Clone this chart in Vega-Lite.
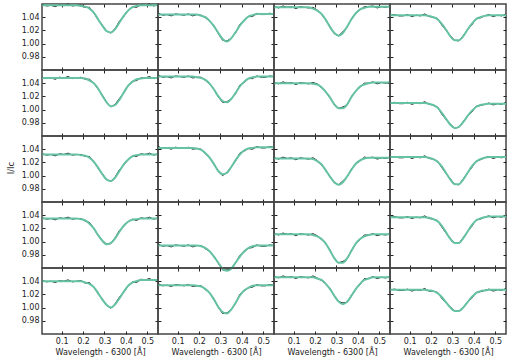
{
"$schema":"https://vega.github.io/schema/vega-lite/v6.json",
"padding":{"left":6,"top":0,"right":10,"bottom":2},
"bounds":"flush",
"datasets":{"d":[
{"r":1,"c":1,"x":0.01,"o":1.059,"f":1.058},{"r":1,"c":1,"x":0.03,"o":1.057,"f":1.058},{"r":1,"c":1,"x":0.05,"o":1.058,"f":1.058},{"r":1,"c":1,"x":0.07,"o":1.056,"f":1.058},{"r":1,"c":1,"x":0.09,"o":1.059,"f":1.058},{"r":1,"c":1,"x":0.11,"o":1.058,"f":1.058},{"r":1,"c":1,"x":0.13,"o":1.060,"f":1.058},{"r":1,"c":1,"x":0.15,"o":1.057,"f":1.058},{"r":1,"c":1,"x":0.17,"o":1.058,"f":1.058},{"r":1,"c":1,"x":0.19,"o":1.058,"f":1.057},{"r":1,"c":1,"x":0.21,"o":1.055,"f":1.056},{"r":1,"c":1,"x":0.23,"o":1.055,"f":1.053},{"r":1,"c":1,"x":0.25,"o":1.047,"f":1.047},{"r":1,"c":1,"x":0.27,"o":1.036,"f":1.037},{"r":1,"c":1,"x":0.29,"o":1.028,"f":1.027},{"r":1,"c":1,"x":0.31,"o":1.019,"f":1.019},{"r":1,"c":1,"x":0.33,"o":1.016,"f":1.017},{"r":1,"c":1,"x":0.35,"o":1.023,"f":1.022},{"r":1,"c":1,"x":0.37,"o":1.034,"f":1.032},{"r":1,"c":1,"x":0.39,"o":1.041,"f":1.042},{"r":1,"c":1,"x":0.41,"o":1.050,"f":1.050},{"r":1,"c":1,"x":0.43,"o":1.056,"f":1.055},{"r":1,"c":1,"x":0.45,"o":1.055,"f":1.057},{"r":1,"c":1,"x":0.47,"o":1.059,"f":1.058},{"r":1,"c":1,"x":0.49,"o":1.058,"f":1.058},{"r":1,"c":1,"x":0.51,"o":1.060,"f":1.058},{"r":1,"c":1,"x":0.53,"o":1.057,"f":1.058},{"r":1,"c":1,"x":0.55,"o":1.059,"f":1.058},
{"r":1,"c":2,"x":0.01,"o":1.046,"f":1.044},{"r":1,"c":2,"x":0.03,"o":1.043,"f":1.044},{"r":1,"c":2,"x":0.05,"o":1.044,"f":1.044},{"r":1,"c":2,"x":0.07,"o":1.042,"f":1.044},{"r":1,"c":2,"x":0.09,"o":1.045,"f":1.044},{"r":1,"c":2,"x":0.11,"o":1.044,"f":1.044},{"r":1,"c":2,"x":0.13,"o":1.043,"f":1.044},{"r":1,"c":2,"x":0.15,"o":1.045,"f":1.044},{"r":1,"c":2,"x":0.17,"o":1.042,"f":1.044},{"r":1,"c":2,"x":0.19,"o":1.044,"f":1.044},{"r":1,"c":2,"x":0.21,"o":1.043,"f":1.042},{"r":1,"c":2,"x":0.23,"o":1.039,"f":1.040},{"r":1,"c":2,"x":0.25,"o":1.034,"f":1.034},{"r":1,"c":2,"x":0.27,"o":1.027,"f":1.026},{"r":1,"c":2,"x":0.29,"o":1.015,"f":1.016},{"r":1,"c":2,"x":0.31,"o":1.005,"f":1.007},{"r":1,"c":2,"x":0.33,"o":1.004,"f":1.003},{"r":1,"c":2,"x":0.35,"o":1.008,"f":1.008},{"r":1,"c":2,"x":0.37,"o":1.016,"f":1.017},{"r":1,"c":2,"x":0.39,"o":1.029,"f":1.027},{"r":1,"c":2,"x":0.41,"o":1.034,"f":1.035},{"r":1,"c":2,"x":0.43,"o":1.041,"f":1.041},{"r":1,"c":2,"x":0.45,"o":1.041,"f":1.043},{"r":1,"c":2,"x":0.47,"o":1.046,"f":1.045},{"r":1,"c":2,"x":0.49,"o":1.044,"f":1.045},{"r":1,"c":2,"x":0.51,"o":1.044,"f":1.045},{"r":1,"c":2,"x":0.53,"o":1.046,"f":1.045},{"r":1,"c":2,"x":0.55,"o":1.045,"f":1.045},
{"r":1,"c":3,"x":0.01,"o":1.056,"f":1.055},{"r":1,"c":3,"x":0.03,"o":1.054,"f":1.055},{"r":1,"c":3,"x":0.05,"o":1.057,"f":1.055},{"r":1,"c":3,"x":0.07,"o":1.055,"f":1.055},{"r":1,"c":3,"x":0.09,"o":1.056,"f":1.055},{"r":1,"c":3,"x":0.11,"o":1.053,"f":1.055},{"r":1,"c":3,"x":0.13,"o":1.056,"f":1.055},{"r":1,"c":3,"x":0.15,"o":1.055,"f":1.055},{"r":1,"c":3,"x":0.17,"o":1.054,"f":1.055},{"r":1,"c":3,"x":0.19,"o":1.055,"f":1.053},{"r":1,"c":3,"x":0.21,"o":1.051,"f":1.050},{"r":1,"c":3,"x":0.23,"o":1.044,"f":1.045},{"r":1,"c":3,"x":0.25,"o":1.036,"f":1.036},{"r":1,"c":3,"x":0.27,"o":1.026,"f":1.025},{"r":1,"c":3,"x":0.29,"o":1.015,"f":1.016},{"r":1,"c":3,"x":0.31,"o":1.012,"f":1.012},{"r":1,"c":3,"x":0.33,"o":1.018,"f":1.016},{"r":1,"c":3,"x":0.35,"o":1.025,"f":1.026},{"r":1,"c":3,"x":0.37,"o":1.038,"f":1.037},{"r":1,"c":3,"x":0.39,"o":1.046,"f":1.046},{"r":1,"c":3,"x":0.41,"o":1.051,"f":1.052},{"r":1,"c":3,"x":0.43,"o":1.056,"f":1.054},{"r":1,"c":3,"x":0.45,"o":1.056,"f":1.056},{"r":1,"c":3,"x":0.47,"o":1.057,"f":1.056},{"r":1,"c":3,"x":0.49,"o":1.054,"f":1.056},{"r":1,"c":3,"x":0.51,"o":1.056,"f":1.056},{"r":1,"c":3,"x":0.53,"o":1.055,"f":1.056},{"r":1,"c":3,"x":0.55,"o":1.057,"f":1.056},
{"r":1,"c":4,"x":0.01,"o":1.043,"f":1.043},{"r":1,"c":4,"x":0.03,"o":1.044,"f":1.043},{"r":1,"c":4,"x":0.05,"o":1.042,"f":1.043},{"r":1,"c":4,"x":0.07,"o":1.042,"f":1.043},{"r":1,"c":4,"x":0.09,"o":1.044,"f":1.043},{"r":1,"c":4,"x":0.11,"o":1.041,"f":1.043},{"r":1,"c":4,"x":0.13,"o":1.043,"f":1.043},{"r":1,"c":4,"x":0.15,"o":1.042,"f":1.043},{"r":1,"c":4,"x":0.17,"o":1.045,"f":1.043},{"r":1,"c":4,"x":0.19,"o":1.041,"f":1.042},{"r":1,"c":4,"x":0.21,"o":1.040,"f":1.040},{"r":1,"c":4,"x":0.23,"o":1.038,"f":1.037},{"r":1,"c":4,"x":0.25,"o":1.028,"f":1.030},{"r":1,"c":4,"x":0.27,"o":1.020,"f":1.021},{"r":1,"c":4,"x":0.29,"o":1.012,"f":1.011},{"r":1,"c":4,"x":0.31,"o":1.005,"f":1.005},{"r":1,"c":4,"x":0.33,"o":1.004,"f":1.005},{"r":1,"c":4,"x":0.35,"o":1.012,"f":1.011},{"r":1,"c":4,"x":0.37,"o":1.021,"f":1.021},{"r":1,"c":4,"x":0.39,"o":1.028,"f":1.030},{"r":1,"c":4,"x":0.41,"o":1.038,"f":1.037},{"r":1,"c":4,"x":0.43,"o":1.039,"f":1.040},{"r":1,"c":4,"x":0.45,"o":1.042,"f":1.042},{"r":1,"c":4,"x":0.47,"o":1.044,"f":1.043},{"r":1,"c":4,"x":0.49,"o":1.041,"f":1.043},{"r":1,"c":4,"x":0.51,"o":1.043,"f":1.043},{"r":1,"c":4,"x":0.53,"o":1.042,"f":1.043},{"r":1,"c":4,"x":0.55,"o":1.045,"f":1.043},
{"r":2,"c":1,"x":0.01,"o":1.049,"f":1.048},{"r":2,"c":1,"x":0.03,"o":1.047,"f":1.048},{"r":2,"c":1,"x":0.05,"o":1.048,"f":1.048},{"r":2,"c":1,"x":0.07,"o":1.046,"f":1.048},{"r":2,"c":1,"x":0.09,"o":1.049,"f":1.048},{"r":2,"c":1,"x":0.11,"o":1.048,"f":1.048},{"r":2,"c":1,"x":0.13,"o":1.050,"f":1.048},{"r":2,"c":1,"x":0.15,"o":1.047,"f":1.048},{"r":2,"c":1,"x":0.17,"o":1.048,"f":1.048},{"r":2,"c":1,"x":0.19,"o":1.049,"f":1.048},{"r":2,"c":1,"x":0.21,"o":1.046,"f":1.047},{"r":2,"c":1,"x":0.23,"o":1.046,"f":1.044},{"r":2,"c":1,"x":0.25,"o":1.040,"f":1.040},{"r":2,"c":1,"x":0.27,"o":1.031,"f":1.032},{"r":2,"c":1,"x":0.29,"o":1.022,"f":1.021},{"r":2,"c":1,"x":0.31,"o":1.011,"f":1.011},{"r":2,"c":1,"x":0.33,"o":1.004,"f":1.005},{"r":2,"c":1,"x":0.35,"o":1.008,"f":1.007},{"r":2,"c":1,"x":0.37,"o":1.017,"f":1.015},{"r":2,"c":1,"x":0.39,"o":1.025,"f":1.026},{"r":2,"c":1,"x":0.41,"o":1.036,"f":1.036},{"r":2,"c":1,"x":0.43,"o":1.043,"f":1.042},{"r":2,"c":1,"x":0.45,"o":1.044,"f":1.046},{"r":2,"c":1,"x":0.47,"o":1.048,"f":1.047},{"r":2,"c":1,"x":0.49,"o":1.048,"f":1.048},{"r":2,"c":1,"x":0.51,"o":1.050,"f":1.048},{"r":2,"c":1,"x":0.53,"o":1.047,"f":1.048},{"r":2,"c":1,"x":0.55,"o":1.049,"f":1.048},
{"r":2,"c":2,"x":0.01,"o":1.052,"f":1.050},{"r":2,"c":2,"x":0.03,"o":1.049,"f":1.050},{"r":2,"c":2,"x":0.05,"o":1.050,"f":1.050},{"r":2,"c":2,"x":0.07,"o":1.048,"f":1.050},{"r":2,"c":2,"x":0.09,"o":1.051,"f":1.050},{"r":2,"c":2,"x":0.11,"o":1.050,"f":1.050},{"r":2,"c":2,"x":0.13,"o":1.049,"f":1.050},{"r":2,"c":2,"x":0.15,"o":1.051,"f":1.050},{"r":2,"c":2,"x":0.17,"o":1.048,"f":1.050},{"r":2,"c":2,"x":0.19,"o":1.049,"f":1.049},{"r":2,"c":2,"x":0.21,"o":1.049,"f":1.048},{"r":2,"c":2,"x":0.23,"o":1.044,"f":1.045},{"r":2,"c":2,"x":0.25,"o":1.039,"f":1.039},{"r":2,"c":2,"x":0.27,"o":1.031,"f":1.030},{"r":2,"c":2,"x":0.29,"o":1.019,"f":1.020},{"r":2,"c":2,"x":0.31,"o":1.011,"f":1.013},{"r":2,"c":2,"x":0.33,"o":1.012,"f":1.011},{"r":2,"c":2,"x":0.35,"o":1.016,"f":1.016},{"r":2,"c":2,"x":0.37,"o":1.024,"f":1.025},{"r":2,"c":2,"x":0.39,"o":1.037,"f":1.035},{"r":2,"c":2,"x":0.41,"o":1.041,"f":1.042},{"r":2,"c":2,"x":0.43,"o":1.047,"f":1.047},{"r":2,"c":2,"x":0.45,"o":1.047,"f":1.049},{"r":2,"c":2,"x":0.47,"o":1.051,"f":1.050},{"r":2,"c":2,"x":0.49,"o":1.049,"f":1.050},{"r":2,"c":2,"x":0.51,"o":1.049,"f":1.050},{"r":2,"c":2,"x":0.53,"o":1.051,"f":1.050},{"r":2,"c":2,"x":0.55,"o":1.050,"f":1.050},
{"r":2,"c":3,"x":0.01,"o":1.041,"f":1.040},{"r":2,"c":3,"x":0.03,"o":1.039,"f":1.040},{"r":2,"c":3,"x":0.05,"o":1.042,"f":1.040},{"r":2,"c":3,"x":0.07,"o":1.040,"f":1.040},{"r":2,"c":3,"x":0.09,"o":1.041,"f":1.040},{"r":2,"c":3,"x":0.11,"o":1.038,"f":1.040},{"r":2,"c":3,"x":0.13,"o":1.041,"f":1.040},{"r":2,"c":3,"x":0.15,"o":1.040,"f":1.040},{"r":2,"c":3,"x":0.17,"o":1.039,"f":1.040},{"r":2,"c":3,"x":0.19,"o":1.041,"f":1.039},{"r":2,"c":3,"x":0.21,"o":1.039,"f":1.038},{"r":2,"c":3,"x":0.23,"o":1.033,"f":1.034},{"r":2,"c":3,"x":0.25,"o":1.027,"f":1.027},{"r":2,"c":3,"x":0.27,"o":1.019,"f":1.018},{"r":2,"c":3,"x":0.29,"o":1.007,"f":1.008},{"r":2,"c":3,"x":0.31,"o":1.002,"f":1.002},{"r":2,"c":3,"x":0.33,"o":1.004,"f":1.002},{"r":2,"c":3,"x":0.35,"o":1.007,"f":1.008},{"r":2,"c":3,"x":0.37,"o":1.020,"f":1.019},{"r":2,"c":3,"x":0.39,"o":1.028,"f":1.028},{"r":2,"c":3,"x":0.41,"o":1.034,"f":1.035},{"r":2,"c":3,"x":0.43,"o":1.040,"f":1.038},{"r":2,"c":3,"x":0.45,"o":1.040,"f":1.040},{"r":2,"c":3,"x":0.47,"o":1.042,"f":1.041},{"r":2,"c":3,"x":0.49,"o":1.039,"f":1.041},{"r":2,"c":3,"x":0.51,"o":1.041,"f":1.041},{"r":2,"c":3,"x":0.53,"o":1.040,"f":1.041},{"r":2,"c":3,"x":0.55,"o":1.042,"f":1.041},
{"r":2,"c":4,"x":0.01,"o":1.010,"f":1.010},{"r":2,"c":4,"x":0.03,"o":1.011,"f":1.010},{"r":2,"c":4,"x":0.05,"o":1.009,"f":1.010},{"r":2,"c":4,"x":0.07,"o":1.009,"f":1.010},{"r":2,"c":4,"x":0.09,"o":1.011,"f":1.010},{"r":2,"c":4,"x":0.11,"o":1.008,"f":1.010},{"r":2,"c":4,"x":0.13,"o":1.010,"f":1.010},{"r":2,"c":4,"x":0.15,"o":1.009,"f":1.010},{"r":2,"c":4,"x":0.17,"o":1.012,"f":1.010},{"r":2,"c":4,"x":0.19,"o":1.008,"f":1.009},{"r":2,"c":4,"x":0.21,"o":1.007,"f":1.007},{"r":2,"c":4,"x":0.23,"o":1.004,"f":1.003},{"r":2,"c":4,"x":0.25,"o":0.993,"f":0.995},{"r":2,"c":4,"x":0.27,"o":0.985,"f":0.986},{"r":2,"c":4,"x":0.29,"o":0.978,"f":0.977},{"r":2,"c":4,"x":0.31,"o":0.972,"f":0.972},{"r":2,"c":4,"x":0.33,"o":0.973,"f":0.974},{"r":2,"c":4,"x":0.35,"o":0.982,"f":0.981},{"r":2,"c":4,"x":0.37,"o":0.990,"f":0.990},{"r":2,"c":4,"x":0.39,"o":0.996,"f":0.998},{"r":2,"c":4,"x":0.41,"o":1.005,"f":1.004},{"r":2,"c":4,"x":0.43,"o":1.006,"f":1.007},{"r":2,"c":4,"x":0.45,"o":1.008,"f":1.008},{"r":2,"c":4,"x":0.47,"o":1.010,"f":1.009},{"r":2,"c":4,"x":0.49,"o":1.007,"f":1.009},{"r":2,"c":4,"x":0.51,"o":1.009,"f":1.009},{"r":2,"c":4,"x":0.53,"o":1.008,"f":1.009},{"r":2,"c":4,"x":0.55,"o":1.011,"f":1.009},
{"r":3,"c":1,"x":0.01,"o":1.033,"f":1.032},{"r":3,"c":1,"x":0.03,"o":1.031,"f":1.032},{"r":3,"c":1,"x":0.05,"o":1.032,"f":1.032},{"r":3,"c":1,"x":0.07,"o":1.030,"f":1.032},{"r":3,"c":1,"x":0.09,"o":1.033,"f":1.032},{"r":3,"c":1,"x":0.11,"o":1.032,"f":1.032},{"r":3,"c":1,"x":0.13,"o":1.034,"f":1.032},{"r":3,"c":1,"x":0.15,"o":1.031,"f":1.032},{"r":3,"c":1,"x":0.17,"o":1.032,"f":1.032},{"r":3,"c":1,"x":0.19,"o":1.032,"f":1.031},{"r":3,"c":1,"x":0.21,"o":1.029,"f":1.030},{"r":3,"c":1,"x":0.23,"o":1.029,"f":1.027},{"r":3,"c":1,"x":0.25,"o":1.021,"f":1.021},{"r":3,"c":1,"x":0.27,"o":1.011,"f":1.012},{"r":3,"c":1,"x":0.29,"o":1.003,"f":1.002},{"r":3,"c":1,"x":0.31,"o":0.994,"f":0.994},{"r":3,"c":1,"x":0.33,"o":0.991,"f":0.992},{"r":3,"c":1,"x":0.35,"o":0.998,"f":0.997},{"r":3,"c":1,"x":0.37,"o":1.009,"f":1.007},{"r":3,"c":1,"x":0.39,"o":1.016,"f":1.017},{"r":3,"c":1,"x":0.41,"o":1.024,"f":1.024},{"r":3,"c":1,"x":0.43,"o":1.030,"f":1.029},{"r":3,"c":1,"x":0.45,"o":1.029,"f":1.031},{"r":3,"c":1,"x":0.47,"o":1.033,"f":1.032},{"r":3,"c":1,"x":0.49,"o":1.032,"f":1.032},{"r":3,"c":1,"x":0.51,"o":1.034,"f":1.032},{"r":3,"c":1,"x":0.53,"o":1.031,"f":1.032},{"r":3,"c":1,"x":0.55,"o":1.033,"f":1.032},
{"r":3,"c":2,"x":0.01,"o":1.044,"f":1.042},{"r":3,"c":2,"x":0.03,"o":1.041,"f":1.042},{"r":3,"c":2,"x":0.05,"o":1.042,"f":1.042},{"r":3,"c":2,"x":0.07,"o":1.040,"f":1.042},{"r":3,"c":2,"x":0.09,"o":1.043,"f":1.042},{"r":3,"c":2,"x":0.11,"o":1.042,"f":1.042},{"r":3,"c":2,"x":0.13,"o":1.041,"f":1.042},{"r":3,"c":2,"x":0.15,"o":1.043,"f":1.042},{"r":3,"c":2,"x":0.17,"o":1.040,"f":1.042},{"r":3,"c":2,"x":0.19,"o":1.041,"f":1.041},{"r":3,"c":2,"x":0.21,"o":1.040,"f":1.039},{"r":3,"c":2,"x":0.23,"o":1.033,"f":1.034},{"r":3,"c":2,"x":0.25,"o":1.027,"f":1.027},{"r":3,"c":2,"x":0.27,"o":1.018,"f":1.017},{"r":3,"c":2,"x":0.29,"o":1.006,"f":1.007},{"r":3,"c":2,"x":0.31,"o":1.000,"f":1.002},{"r":3,"c":2,"x":0.33,"o":1.005,"f":1.004},{"r":3,"c":2,"x":0.35,"o":1.013,"f":1.013},{"r":3,"c":2,"x":0.37,"o":1.022,"f":1.023},{"r":3,"c":2,"x":0.39,"o":1.034,"f":1.032},{"r":3,"c":2,"x":0.41,"o":1.037,"f":1.038},{"r":3,"c":2,"x":0.43,"o":1.041,"f":1.041},{"r":3,"c":2,"x":0.45,"o":1.040,"f":1.042},{"r":3,"c":2,"x":0.47,"o":1.044,"f":1.043},{"r":3,"c":2,"x":0.49,"o":1.042,"f":1.043},{"r":3,"c":2,"x":0.51,"o":1.042,"f":1.043},{"r":3,"c":2,"x":0.53,"o":1.044,"f":1.043},{"r":3,"c":2,"x":0.55,"o":1.043,"f":1.043},
{"r":3,"c":3,"x":0.01,"o":1.027,"f":1.026},{"r":3,"c":3,"x":0.03,"o":1.025,"f":1.026},{"r":3,"c":3,"x":0.05,"o":1.028,"f":1.026},{"r":3,"c":3,"x":0.07,"o":1.026,"f":1.026},{"r":3,"c":3,"x":0.09,"o":1.027,"f":1.026},{"r":3,"c":3,"x":0.11,"o":1.024,"f":1.026},{"r":3,"c":3,"x":0.13,"o":1.027,"f":1.026},{"r":3,"c":3,"x":0.15,"o":1.026,"f":1.026},{"r":3,"c":3,"x":0.17,"o":1.025,"f":1.026},{"r":3,"c":3,"x":0.19,"o":1.027,"f":1.025},{"r":3,"c":3,"x":0.21,"o":1.023,"f":1.022},{"r":3,"c":3,"x":0.23,"o":1.016,"f":1.017},{"r":3,"c":3,"x":0.25,"o":1.008,"f":1.008},{"r":3,"c":3,"x":0.27,"o":0.999,"f":0.998},{"r":3,"c":3,"x":0.29,"o":0.989,"f":0.990},{"r":3,"c":3,"x":0.31,"o":0.986,"f":0.986},{"r":3,"c":3,"x":0.33,"o":0.992,"f":0.990},{"r":3,"c":3,"x":0.35,"o":0.998,"f":0.999},{"r":3,"c":3,"x":0.37,"o":1.010,"f":1.009},{"r":3,"c":3,"x":0.39,"o":1.018,"f":1.018},{"r":3,"c":3,"x":0.41,"o":1.022,"f":1.023},{"r":3,"c":3,"x":0.43,"o":1.028,"f":1.026},{"r":3,"c":3,"x":0.45,"o":1.027,"f":1.027},{"r":3,"c":3,"x":0.47,"o":1.028,"f":1.027},{"r":3,"c":3,"x":0.49,"o":1.025,"f":1.027},{"r":3,"c":3,"x":0.51,"o":1.027,"f":1.027},{"r":3,"c":3,"x":0.53,"o":1.026,"f":1.027},{"r":3,"c":3,"x":0.55,"o":1.028,"f":1.027},
{"r":3,"c":4,"x":0.01,"o":1.028,"f":1.028},{"r":3,"c":4,"x":0.03,"o":1.029,"f":1.028},{"r":3,"c":4,"x":0.05,"o":1.027,"f":1.028},{"r":3,"c":4,"x":0.07,"o":1.027,"f":1.028},{"r":3,"c":4,"x":0.09,"o":1.029,"f":1.028},{"r":3,"c":4,"x":0.11,"o":1.026,"f":1.028},{"r":3,"c":4,"x":0.13,"o":1.028,"f":1.028},{"r":3,"c":4,"x":0.15,"o":1.027,"f":1.028},{"r":3,"c":4,"x":0.17,"o":1.030,"f":1.028},{"r":3,"c":4,"x":0.19,"o":1.026,"f":1.027},{"r":3,"c":4,"x":0.21,"o":1.025,"f":1.025},{"r":3,"c":4,"x":0.23,"o":1.022,"f":1.021},{"r":3,"c":4,"x":0.25,"o":1.012,"f":1.014},{"r":3,"c":4,"x":0.27,"o":1.003,"f":1.004},{"r":3,"c":4,"x":0.29,"o":0.995,"f":0.994},{"r":3,"c":4,"x":0.31,"o":0.987,"f":0.987},{"r":3,"c":4,"x":0.33,"o":0.986,"f":0.987},{"r":3,"c":4,"x":0.35,"o":0.995,"f":0.994},{"r":3,"c":4,"x":0.37,"o":1.004,"f":1.004},{"r":3,"c":4,"x":0.39,"o":1.012,"f":1.014},{"r":3,"c":4,"x":0.41,"o":1.022,"f":1.021},{"r":3,"c":4,"x":0.43,"o":1.024,"f":1.025},{"r":3,"c":4,"x":0.45,"o":1.027,"f":1.027},{"r":3,"c":4,"x":0.47,"o":1.029,"f":1.028},{"r":3,"c":4,"x":0.49,"o":1.026,"f":1.028},{"r":3,"c":4,"x":0.51,"o":1.028,"f":1.028},{"r":3,"c":4,"x":0.53,"o":1.027,"f":1.028},{"r":3,"c":4,"x":0.55,"o":1.030,"f":1.028},
{"r":4,"c":1,"x":0.01,"o":1.036,"f":1.035},{"r":4,"c":1,"x":0.03,"o":1.034,"f":1.035},{"r":4,"c":1,"x":0.05,"o":1.035,"f":1.035},{"r":4,"c":1,"x":0.07,"o":1.033,"f":1.035},{"r":4,"c":1,"x":0.09,"o":1.036,"f":1.035},{"r":4,"c":1,"x":0.11,"o":1.035,"f":1.035},{"r":4,"c":1,"x":0.13,"o":1.037,"f":1.035},{"r":4,"c":1,"x":0.15,"o":1.034,"f":1.035},{"r":4,"c":1,"x":0.17,"o":1.035,"f":1.035},{"r":4,"c":1,"x":0.19,"o":1.035,"f":1.034},{"r":4,"c":1,"x":0.21,"o":1.031,"f":1.032},{"r":4,"c":1,"x":0.23,"o":1.029,"f":1.027},{"r":4,"c":1,"x":0.25,"o":1.020,"f":1.020},{"r":4,"c":1,"x":0.27,"o":1.009,"f":1.010},{"r":4,"c":1,"x":0.29,"o":1.002,"f":1.001},{"r":4,"c":1,"x":0.31,"o":0.996,"f":0.996},{"r":4,"c":1,"x":0.33,"o":0.997,"f":0.998},{"r":4,"c":1,"x":0.35,"o":1.006,"f":1.005},{"r":4,"c":1,"x":0.37,"o":1.017,"f":1.015},{"r":4,"c":1,"x":0.39,"o":1.023,"f":1.024},{"r":4,"c":1,"x":0.41,"o":1.030,"f":1.030},{"r":4,"c":1,"x":0.43,"o":1.034,"f":1.033},{"r":4,"c":1,"x":0.45,"o":1.032,"f":1.034},{"r":4,"c":1,"x":0.47,"o":1.036,"f":1.035},{"r":4,"c":1,"x":0.49,"o":1.035,"f":1.035},{"r":4,"c":1,"x":0.51,"o":1.037,"f":1.035},{"r":4,"c":1,"x":0.53,"o":1.034,"f":1.035},{"r":4,"c":1,"x":0.55,"o":1.036,"f":1.035},
{"r":4,"c":2,"x":0.01,"o":0.996,"f":0.994},{"r":4,"c":2,"x":0.03,"o":0.993,"f":0.994},{"r":4,"c":2,"x":0.05,"o":0.994,"f":0.994},{"r":4,"c":2,"x":0.07,"o":0.992,"f":0.994},{"r":4,"c":2,"x":0.09,"o":0.995,"f":0.994},{"r":4,"c":2,"x":0.11,"o":0.994,"f":0.994},{"r":4,"c":2,"x":0.13,"o":0.993,"f":0.994},{"r":4,"c":2,"x":0.15,"o":0.995,"f":0.994},{"r":4,"c":2,"x":0.17,"o":0.992,"f":0.994},{"r":4,"c":2,"x":0.19,"o":0.994,"f":0.994},{"r":4,"c":2,"x":0.21,"o":0.994,"f":0.993},{"r":4,"c":2,"x":0.23,"o":0.989,"f":0.990},{"r":4,"c":2,"x":0.25,"o":0.985,"f":0.985},{"r":4,"c":2,"x":0.27,"o":0.978,"f":0.977},{"r":4,"c":2,"x":0.29,"o":0.967,"f":0.968},{"r":4,"c":2,"x":0.31,"o":0.957,"f":0.959},{"r":4,"c":2,"x":0.33,"o":0.957,"f":0.956},{"r":4,"c":2,"x":0.35,"o":0.959,"f":0.959},{"r":4,"c":2,"x":0.37,"o":0.967,"f":0.968},{"r":4,"c":2,"x":0.39,"o":0.979,"f":0.977},{"r":4,"c":2,"x":0.41,"o":0.984,"f":0.985},{"r":4,"c":2,"x":0.43,"o":0.990,"f":0.990},{"r":4,"c":2,"x":0.45,"o":0.991,"f":0.993},{"r":4,"c":2,"x":0.47,"o":0.995,"f":0.994},{"r":4,"c":2,"x":0.49,"o":0.993,"f":0.994},{"r":4,"c":2,"x":0.51,"o":0.993,"f":0.994},{"r":4,"c":2,"x":0.53,"o":0.995,"f":0.994},{"r":4,"c":2,"x":0.55,"o":0.994,"f":0.994},
{"r":4,"c":3,"x":0.01,"o":1.012,"f":1.011},{"r":4,"c":3,"x":0.03,"o":1.010,"f":1.011},{"r":4,"c":3,"x":0.05,"o":1.013,"f":1.011},{"r":4,"c":3,"x":0.07,"o":1.011,"f":1.011},{"r":4,"c":3,"x":0.09,"o":1.012,"f":1.011},{"r":4,"c":3,"x":0.11,"o":1.009,"f":1.011},{"r":4,"c":3,"x":0.13,"o":1.012,"f":1.011},{"r":4,"c":3,"x":0.15,"o":1.011,"f":1.011},{"r":4,"c":3,"x":0.17,"o":1.010,"f":1.011},{"r":4,"c":3,"x":0.19,"o":1.012,"f":1.010},{"r":4,"c":3,"x":0.21,"o":1.009,"f":1.008},{"r":4,"c":3,"x":0.23,"o":1.003,"f":1.004},{"r":4,"c":3,"x":0.25,"o":0.997,"f":0.997},{"r":4,"c":3,"x":0.27,"o":0.987,"f":0.986},{"r":4,"c":3,"x":0.29,"o":0.974,"f":0.975},{"r":4,"c":3,"x":0.31,"o":0.968,"f":0.968},{"r":4,"c":3,"x":0.33,"o":0.970,"f":0.968},{"r":4,"c":3,"x":0.35,"o":0.974,"f":0.975},{"r":4,"c":3,"x":0.37,"o":0.987,"f":0.986},{"r":4,"c":3,"x":0.39,"o":0.997,"f":0.997},{"r":4,"c":3,"x":0.41,"o":1.003,"f":1.004},{"r":4,"c":3,"x":0.43,"o":1.010,"f":1.008},{"r":4,"c":3,"x":0.45,"o":1.010,"f":1.010},{"r":4,"c":3,"x":0.47,"o":1.012,"f":1.011},{"r":4,"c":3,"x":0.49,"o":1.009,"f":1.011},{"r":4,"c":3,"x":0.51,"o":1.011,"f":1.011},{"r":4,"c":3,"x":0.53,"o":1.010,"f":1.011},{"r":4,"c":3,"x":0.55,"o":1.012,"f":1.011},
{"r":4,"c":4,"x":0.01,"o":1.037,"f":1.037},{"r":4,"c":4,"x":0.03,"o":1.038,"f":1.037},{"r":4,"c":4,"x":0.05,"o":1.036,"f":1.037},{"r":4,"c":4,"x":0.07,"o":1.036,"f":1.037},{"r":4,"c":4,"x":0.09,"o":1.038,"f":1.037},{"r":4,"c":4,"x":0.11,"o":1.035,"f":1.037},{"r":4,"c":4,"x":0.13,"o":1.037,"f":1.037},{"r":4,"c":4,"x":0.15,"o":1.036,"f":1.037},{"r":4,"c":4,"x":0.17,"o":1.039,"f":1.037},{"r":4,"c":4,"x":0.19,"o":1.035,"f":1.036},{"r":4,"c":4,"x":0.21,"o":1.034,"f":1.034},{"r":4,"c":4,"x":0.23,"o":1.032,"f":1.031},{"r":4,"c":4,"x":0.25,"o":1.022,"f":1.024},{"r":4,"c":4,"x":0.27,"o":1.013,"f":1.014},{"r":4,"c":4,"x":0.29,"o":1.005,"f":1.004},{"r":4,"c":4,"x":0.31,"o":0.998,"f":0.998},{"r":4,"c":4,"x":0.33,"o":0.997,"f":0.998},{"r":4,"c":4,"x":0.35,"o":1.006,"f":1.005},{"r":4,"c":4,"x":0.37,"o":1.015,"f":1.015},{"r":4,"c":4,"x":0.39,"o":1.023,"f":1.025},{"r":4,"c":4,"x":0.41,"o":1.033,"f":1.032},{"r":4,"c":4,"x":0.43,"o":1.034,"f":1.035},{"r":4,"c":4,"x":0.45,"o":1.037,"f":1.037},{"r":4,"c":4,"x":0.47,"o":1.039,"f":1.038},{"r":4,"c":4,"x":0.49,"o":1.036,"f":1.038},{"r":4,"c":4,"x":0.51,"o":1.038,"f":1.038},{"r":4,"c":4,"x":0.53,"o":1.037,"f":1.038},{"r":4,"c":4,"x":0.55,"o":1.040,"f":1.038},
{"r":5,"c":1,"x":0.01,"o":1.041,"f":1.040},{"r":5,"c":1,"x":0.03,"o":1.039,"f":1.040},{"r":5,"c":1,"x":0.05,"o":1.040,"f":1.040},{"r":5,"c":1,"x":0.07,"o":1.038,"f":1.040},{"r":5,"c":1,"x":0.09,"o":1.041,"f":1.040},{"r":5,"c":1,"x":0.11,"o":1.040,"f":1.040},{"r":5,"c":1,"x":0.13,"o":1.042,"f":1.040},{"r":5,"c":1,"x":0.15,"o":1.039,"f":1.040},{"r":5,"c":1,"x":0.17,"o":1.040,"f":1.040},{"r":5,"c":1,"x":0.19,"o":1.041,"f":1.040},{"r":5,"c":1,"x":0.21,"o":1.037,"f":1.038},{"r":5,"c":1,"x":0.23,"o":1.038,"f":1.036},{"r":5,"c":1,"x":0.25,"o":1.031,"f":1.031},{"r":5,"c":1,"x":0.27,"o":1.021,"f":1.022},{"r":5,"c":1,"x":0.29,"o":1.013,"f":1.012},{"r":5,"c":1,"x":0.31,"o":1.004,"f":1.004},{"r":5,"c":1,"x":0.33,"o":0.999,"f":1.000},{"r":5,"c":1,"x":0.35,"o":1.006,"f":1.005},{"r":5,"c":1,"x":0.37,"o":1.016,"f":1.014},{"r":5,"c":1,"x":0.39,"o":1.023,"f":1.024},{"r":5,"c":1,"x":0.41,"o":1.033,"f":1.033},{"r":5,"c":1,"x":0.43,"o":1.039,"f":1.038},{"r":5,"c":1,"x":0.45,"o":1.038,"f":1.040},{"r":5,"c":1,"x":0.47,"o":1.043,"f":1.042},{"r":5,"c":1,"x":0.49,"o":1.042,"f":1.042},{"r":5,"c":1,"x":0.51,"o":1.044,"f":1.042},{"r":5,"c":1,"x":0.53,"o":1.041,"f":1.042},{"r":5,"c":1,"x":0.55,"o":1.043,"f":1.042},
{"r":5,"c":2,"x":0.01,"o":1.036,"f":1.034},{"r":5,"c":2,"x":0.03,"o":1.033,"f":1.034},{"r":5,"c":2,"x":0.05,"o":1.034,"f":1.034},{"r":5,"c":2,"x":0.07,"o":1.032,"f":1.034},{"r":5,"c":2,"x":0.09,"o":1.035,"f":1.034},{"r":5,"c":2,"x":0.11,"o":1.034,"f":1.034},{"r":5,"c":2,"x":0.13,"o":1.033,"f":1.034},{"r":5,"c":2,"x":0.15,"o":1.035,"f":1.034},{"r":5,"c":2,"x":0.17,"o":1.032,"f":1.034},{"r":5,"c":2,"x":0.19,"o":1.033,"f":1.033},{"r":5,"c":2,"x":0.21,"o":1.033,"f":1.032},{"r":5,"c":2,"x":0.23,"o":1.027,"f":1.028},{"r":5,"c":2,"x":0.25,"o":1.022,"f":1.022},{"r":5,"c":2,"x":0.27,"o":1.013,"f":1.012},{"r":5,"c":2,"x":0.29,"o":1.000,"f":1.001},{"r":5,"c":2,"x":0.31,"o":0.991,"f":0.993},{"r":5,"c":2,"x":0.33,"o":0.992,"f":0.991},{"r":5,"c":2,"x":0.35,"o":0.997,"f":0.997},{"r":5,"c":2,"x":0.37,"o":1.006,"f":1.007},{"r":5,"c":2,"x":0.39,"o":1.020,"f":1.018},{"r":5,"c":2,"x":0.41,"o":1.025,"f":1.026},{"r":5,"c":2,"x":0.43,"o":1.030,"f":1.030},{"r":5,"c":2,"x":0.45,"o":1.031,"f":1.033},{"r":5,"c":2,"x":0.47,"o":1.035,"f":1.034},{"r":5,"c":2,"x":0.49,"o":1.033,"f":1.034},{"r":5,"c":2,"x":0.51,"o":1.033,"f":1.034},{"r":5,"c":2,"x":0.53,"o":1.035,"f":1.034},{"r":5,"c":2,"x":0.55,"o":1.034,"f":1.034},
{"r":5,"c":3,"x":0.01,"o":1.047,"f":1.046},{"r":5,"c":3,"x":0.03,"o":1.045,"f":1.046},{"r":5,"c":3,"x":0.05,"o":1.048,"f":1.046},{"r":5,"c":3,"x":0.07,"o":1.046,"f":1.046},{"r":5,"c":3,"x":0.09,"o":1.047,"f":1.046},{"r":5,"c":3,"x":0.11,"o":1.044,"f":1.046},{"r":5,"c":3,"x":0.13,"o":1.047,"f":1.046},{"r":5,"c":3,"x":0.15,"o":1.046,"f":1.046},{"r":5,"c":3,"x":0.17,"o":1.045,"f":1.046},{"r":5,"c":3,"x":0.19,"o":1.048,"f":1.046},{"r":5,"c":3,"x":0.21,"o":1.045,"f":1.044},{"r":5,"c":3,"x":0.23,"o":1.041,"f":1.042},{"r":5,"c":3,"x":0.25,"o":1.036,"f":1.036},{"r":5,"c":3,"x":0.27,"o":1.029,"f":1.028},{"r":5,"c":3,"x":0.29,"o":1.017,"f":1.018},{"r":5,"c":3,"x":0.31,"o":1.009,"f":1.009},{"r":5,"c":3,"x":0.33,"o":1.007,"f":1.005},{"r":5,"c":3,"x":0.35,"o":1.008,"f":1.009},{"r":5,"c":3,"x":0.37,"o":1.019,"f":1.018},{"r":5,"c":3,"x":0.39,"o":1.028,"f":1.028},{"r":5,"c":3,"x":0.41,"o":1.035,"f":1.036},{"r":5,"c":3,"x":0.43,"o":1.044,"f":1.042},{"r":5,"c":3,"x":0.45,"o":1.044,"f":1.044},{"r":5,"c":3,"x":0.47,"o":1.047,"f":1.046},{"r":5,"c":3,"x":0.49,"o":1.044,"f":1.046},{"r":5,"c":3,"x":0.51,"o":1.046,"f":1.046},{"r":5,"c":3,"x":0.53,"o":1.045,"f":1.046},{"r":5,"c":3,"x":0.55,"o":1.047,"f":1.046},
{"r":5,"c":4,"x":0.01,"o":1.027,"f":1.027},{"r":5,"c":4,"x":0.03,"o":1.028,"f":1.027},{"r":5,"c":4,"x":0.05,"o":1.026,"f":1.027},{"r":5,"c":4,"x":0.07,"o":1.026,"f":1.027},{"r":5,"c":4,"x":0.09,"o":1.028,"f":1.027},{"r":5,"c":4,"x":0.11,"o":1.025,"f":1.027},{"r":5,"c":4,"x":0.13,"o":1.027,"f":1.027},{"r":5,"c":4,"x":0.15,"o":1.026,"f":1.027},{"r":5,"c":4,"x":0.17,"o":1.029,"f":1.027},{"r":5,"c":4,"x":0.19,"o":1.025,"f":1.026},{"r":5,"c":4,"x":0.21,"o":1.025,"f":1.025},{"r":5,"c":4,"x":0.23,"o":1.023,"f":1.022},{"r":5,"c":4,"x":0.25,"o":1.014,"f":1.016},{"r":5,"c":4,"x":0.27,"o":1.007,"f":1.008},{"r":5,"c":4,"x":0.29,"o":1.001,"f":1.000},{"r":5,"c":4,"x":0.31,"o":0.995,"f":0.995},{"r":5,"c":4,"x":0.33,"o":0.994,"f":0.995},{"r":5,"c":4,"x":0.35,"o":1.001,"f":1.000},{"r":5,"c":4,"x":0.37,"o":1.008,"f":1.008},{"r":5,"c":4,"x":0.39,"o":1.014,"f":1.016},{"r":5,"c":4,"x":0.41,"o":1.023,"f":1.022},{"r":5,"c":4,"x":0.43,"o":1.024,"f":1.025},{"r":5,"c":4,"x":0.45,"o":1.026,"f":1.026},{"r":5,"c":4,"x":0.47,"o":1.028,"f":1.027},{"r":5,"c":4,"x":0.49,"o":1.025,"f":1.027},{"r":5,"c":4,"x":0.51,"o":1.027,"f":1.027},{"r":5,"c":4,"x":0.53,"o":1.026,"f":1.027},{"r":5,"c":4,"x":0.55,"o":1.029,"f":1.027}
]},
"data":{"name":"d"},
"facet":{
  "row":{"field":"r","type":"ordinal","header":{"labels":false,"title":"I/Ic","titleFontSize":8.5,"titleFontWeight":"normal","titleFont":"DejaVu Sans","titleColor":"#222","titlePadding":-4}},
  "column":{"field":"c","type":"ordinal","header":{"labels":false,"title":null}}
},
"spacing":{"row":0,"column":0},
"spec":{
  "width":116,"height":66,
  "layer":[
    {"mark":{"type":"line","color":"#111","strokeWidth":1},
     "encoding":{
       "x":{"field":"x","type":"quantitative","scale":{"domain":[0.008,0.55],"nice":false,"zero":false},"axis":{"values":[0.1,0.2,0.3,0.4,0.5],"tickCount":20,"format":".1f","title":"Wavelength - 6300 [Å]","gridDash":[3,60],"labelOverlap":false,"labelBound":false,"labelFlush":false}},
       "y":{"field":"o","type":"quantitative","scale":{"domain":[0.96,1.06],"nice":false,"zero":false},"axis":{"values":[0.98,1.0,1.02,1.04],"tickCount":20,"format":".2f","title":null,"gridDash":[3,110],"labelOverlap":false,"labelBound":false,"labelFlush":false}}
     }},
    {"mark":{"type":"line","color":"#66c2a5","strokeWidth":2,"interpolate":"monotone"},
     "encoding":{
       "x":{"field":"x","type":"quantitative"},
       "y":{"field":"f","type":"quantitative"}
     }}
  ]
},
"config":{
  "font":"DejaVu Sans",
  "facet":{"spacing":0},
  "view":{"stroke":"#444","strokeWidth":1.5},
  "axis":{"labelFontSize":8,"titleFontSize":8,"titleFontWeight":"normal","labelColor":"#222","titleColor":"#222","ticks":false,"domain":false,"grid":true,"gridColor":"#222","gridOpacity":1,"gridWidth":1,"labelPadding":3,"titlePadding":3}
}
}
